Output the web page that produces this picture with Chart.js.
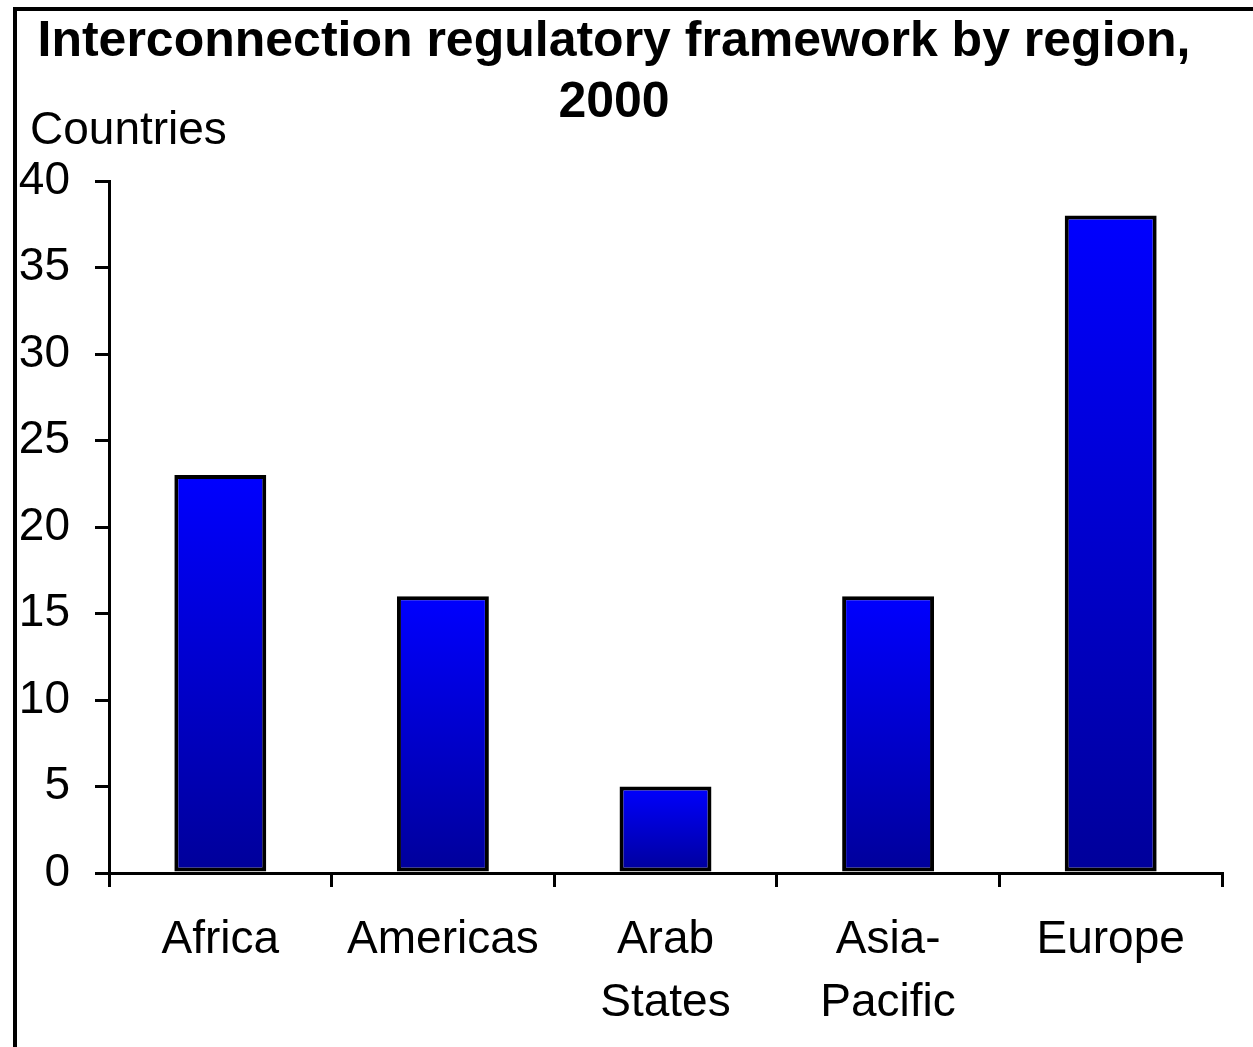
<!DOCTYPE html>
<html>
<head>
<meta charset="utf-8">
<script src="https://cdn.jsdelivr.net/npm/chart.js@4.4.1/dist/chart.umd.min.js"></script>
<style>
  html, body { margin: 0; padding: 0; background: #fff; }
  #wrap { position: relative; width: 1253px; height: 1047px; }
</style>
</head>
<body>
<div id="wrap"><canvas id="grafica"></canvas></div>
<script>
// ===== Datos =====
const titulo = ["Interconnection regulatory framework by region,", "2000"];
const etiquetaEje = "Countries";
const regiones = ["Africa", "Americas", ["Arab", "States"], ["Asia-", "Pacific"], "Europe"];
const paises = [23, 16, 5, 16, 38];
const ejeY = { min: 0, max: 40, paso: 5 };

const FUENTE = "'Liberation Sans', Arial, sans-serif";

// gradiente por barra: azul claro arriba, azul oscuro abajo
function colorBarra(ctx) {
  const chart = ctx.chart;
  const y = chart.scales.y;
  if (!chart.chartArea || !y || ctx.raw === undefined) return "#0000ff";
  const arriba = y.getPixelForValue(ctx.raw);
  const abajo = y.getPixelForValue(0);
  const g = chart.ctx.createLinearGradient(0, arriba, 0, abajo);
  g.addColorStop(0, "#0000ff");
  g.addColorStop(1, "#00009a");
  return g;
}

// marco negro (izquierda y arriba) y etiqueta "Countries"
const marco = {
  id: "marco",
  beforeDraw(chart) {
    const c = chart.ctx;
    c.save();
    c.fillStyle = "#fff";
    c.fillRect(0, 0, chart.width, chart.height);
    c.fillStyle = "#000";
    c.fillRect(13, 7, 4, chart.height - 7);
    c.fillRect(13, 7, chart.width - 13, 4);
    c.restore();
  },
  afterDraw(chart) {
    const c = chart.ctx;
    c.save();
    c.fillStyle = "#000";
    c.font = "46px " + FUENTE;
    c.textBaseline = "alphabetic";
    c.textAlign = "left";
    c.fillText(etiquetaEje, 30, 144);
    c.restore();
  }
};

new Chart(document.getElementById("grafica"), {
  type: "bar",
  data: {
    labels: regiones,
    datasets: [{
      label: etiquetaEje,
      data: paises,
      backgroundColor: colorBarra,
      borderColor: "#000",
      borderWidth: 4,
      borderSkipped: false,
      categoryPercentage: 1,
      barPercentage: 0.413
    }]
  },
  options: {
    responsive: true,
    maintainAspectRatio: false,
    animation: false,
    layout: { padding: { top: 12, left: 6, right: 31, bottom: 0 } },
    plugins: {
      legend: { display: false },
      tooltip: { enabled: false },
      title: {
        display: true,
        text: titulo,
        color: "#000",
        font: { family: FUENTE, size: 50, weight: "bold", lineHeight: 1.22 },
        padding: { top: 0, bottom: 47 }
      }
    },
    scales: {
      x: {
        afterFit(scale) { scale.height = 174; },
        grid: { display: true, drawOnChartArea: false, drawTicks: true, tickLength: 14, color: "#000", lineWidth: 3, offset: true },
        border: { display: true, color: "#000", width: 3 },
        ticks: { color: "#000", padding: 22, maxRotation: 0, autoSkip: false,
                 font: { family: FUENTE, size: 46, lineHeight: 1.37 } }
      },
      y: {
        min: ejeY.min,
        max: ejeY.max,
        afterFit(scale) { scale.width = 103; },
        grid: { display: true, drawOnChartArea: false, drawTicks: true, tickLength: 14, color: "#000", lineWidth: 3 },
        border: { display: true, color: "#000", width: 3 },
        ticks: { stepSize: ejeY.paso, color: "#000", padding: 25,
                 font: { family: FUENTE, size: 46 } }
      }
    }
  },
  plugins: [marco]
});
</script>
</body>
</html>
